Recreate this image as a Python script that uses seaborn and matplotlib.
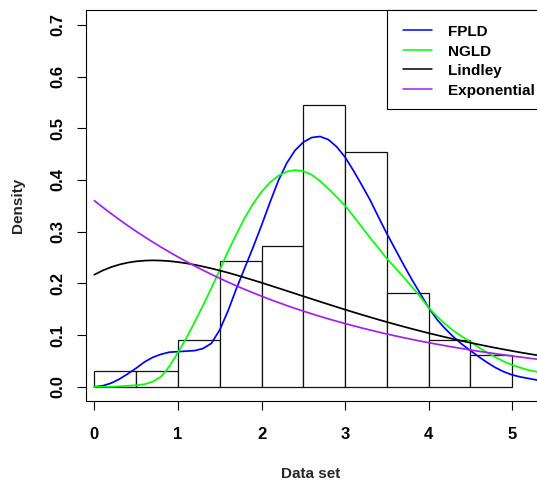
import matplotlib
matplotlib.use("Agg")
import numpy as np
import pandas as pd
import seaborn as sns
import matplotlib.pyplot as plt
from matplotlib.patches import Rectangle
from matplotlib.lines import Line2D

# ---------------- data ----------------
bin_edges = [0.0, 0.5, 1.0, 1.5, 2.0, 2.5, 3.0, 3.5, 4.0, 4.5, 5.0]
bin_counts = [1, 1, 3, 8, 9, 18, 15, 6, 3, 2]

x_grid = [round(0.1 * i, 1) for i in range(54)]  # 0.0 .. 5.3

fpld = [0.000, 0.002, 0.007, 0.015, 0.025, 0.036, 0.048, 0.057, 0.063, 0.067,
        0.068, 0.069, 0.070, 0.074, 0.084, 0.110, 0.147, 0.190, 0.230, 0.270,
        0.312, 0.356, 0.398, 0.432, 0.457, 0.473, 0.482, 0.484, 0.478, 0.464,
        0.444, 0.418, 0.390, 0.361, 0.328, 0.296, 0.266, 0.236, 0.207, 0.180,
        0.153, 0.130, 0.112, 0.096, 0.082, 0.070, 0.058, 0.047, 0.037, 0.029,
        0.023, 0.019, 0.016, 0.013]

ngld = [0.000, 0.000, 0.000, 0.001, 0.002, 0.003, 0.005, 0.010, 0.020, 0.040,
        0.066, 0.094, 0.125, 0.157, 0.191, 0.226, 0.262, 0.295, 0.327, 0.354,
        0.377, 0.395, 0.408, 0.416, 0.419, 0.417, 0.410, 0.398, 0.383, 0.367,
        0.350, 0.330, 0.309, 0.288, 0.268, 0.248, 0.230, 0.212, 0.193, 0.174,
        0.153, 0.136, 0.121, 0.108, 0.097, 0.087, 0.076, 0.066, 0.057, 0.049,
        0.042, 0.037, 0.032, 0.029]

lindley = [0.2168, 0.2249, 0.2314, 0.2364, 0.2401, 0.2426, 0.2440, 0.2445, 0.2441, 0.2430,
           0.2412, 0.2388, 0.2360, 0.2326, 0.2289, 0.2249, 0.2206, 0.2160, 0.2112, 0.2063,
           0.2013, 0.1961, 0.1909, 0.1857, 0.1804, 0.1751, 0.1699, 0.1647, 0.1595, 0.1544,
           0.1493, 0.1443, 0.1394, 0.1346, 0.1299, 0.1253, 0.1208, 0.1164, 0.1121, 0.1079,
           0.1038, 0.0999, 0.0960, 0.0923, 0.0887, 0.0852, 0.0818, 0.0785, 0.0753, 0.0723,
           0.0693, 0.0664, 0.0637, 0.0610]

exponential = [0.3600, 0.3473, 0.3350, 0.3232, 0.3117, 0.3007, 0.2901, 0.2798, 0.2699, 0.2604,
               0.2512, 0.2423, 0.2337, 0.2255, 0.2175, 0.2098, 0.2024, 0.1952, 0.1883, 0.1817,
               0.1753, 0.1690, 0.1631, 0.1573, 0.1517, 0.1464, 0.1412, 0.1362, 0.1314, 0.1268,
               0.1223, 0.1180, 0.1138, 0.1098, 0.1059, 0.1021, 0.0985, 0.0950, 0.0917, 0.0884,
               0.0853, 0.0823, 0.0794, 0.0766, 0.0739, 0.0713, 0.0687, 0.0663, 0.0640, 0.0617,
               0.0595, 0.0574, 0.0554, 0.0534]

series_names = ["FPLD", "NGLD", "Lindley", "Exponential"]
series_values = [fpld, ngld, lindley, exponential]
series_colors = ["#0000FF", "#00FF00", "#000000", "#A020F0"]

x_ticks = [0, 1, 2, 3, 4, 5]
y_ticks = [0.0, 0.1, 0.2, 0.3, 0.4, 0.5, 0.6, 0.7]
y_ticklabels = ["0.0", "0.1", "0.2", "0.3", "0.4", "0.5", "0.6", "0.7"]

# ---------------- style ----------------
sns.set_style("white")
plt.rcParams["font.family"] = ["Liberation Sans", "DejaVu Sans"]
plt.rcParams["font.weight"] = "bold"
plt.rcParams["axes.labelweight"] = "bold"

W, H = 537, 482
fig = plt.figure(figsize=(W / 100, H / 100), dpi=100)
ax_l, ax_r, ax_t, ax_b = 85.7, 538.2, 10.3, 401.3
ax = fig.add_axes([ax_l / W, 1 - ax_b / H, (ax_r - ax_l) / W, (ax_b - ax_t) / H])

# histogram
bin_centers = [(a + b) / 2 for a, b in zip(bin_edges[:-1], bin_edges[1:])]
hist_df = pd.DataFrame({"value": bin_centers, "count": bin_counts})
sns.histplot(data=hist_df, x="value", weights="count", bins=bin_edges, stat="density",
             color="white", edgecolor="#111111", linewidth=0.9, alpha=1.0, ax=ax)

# density curves
for name, vals, col in zip(series_names, series_values, series_colors):
    sns.lineplot(x=x_grid, y=vals, color=col, linewidth=1.25, sort=False,
                 estimator=None, ax=ax)

ax.set_xlim(-0.103, 5.31)
ax.set_ylim(-0.028, 0.728)
ax.set_xticks(x_ticks)
ax.set_xticklabels([str(t) for t in x_ticks])
ax.set_yticks(y_ticks)
ax.set_yticklabels(y_ticklabels, rotation=90, va="center")

for s in ax.spines.values():
    s.set_color("black")
    s.set_linewidth(0.8)
ax.tick_params(axis="both", direction="out", length=6.8, width=0.8, color="black",
               labelsize=12, labelcolor="black")
ax.tick_params(axis="x", pad=11.5, bottom=True)
ax.tick_params(axis="y", pad=8, left=True)
for lab in ax.get_xticklabels() + ax.get_yticklabels():
    lab.set_fontweight("bold")

ax.set_xlabel("Data set", fontsize=11, fontweight="bold")
ax.set_ylabel("Density", fontsize=11, fontweight="bold")
axw, axh = ax_r - ax_l, ax_b - ax_t
ax.xaxis.set_label_coords((310.5 - ax_l) / axw, (ax_b - 478.3) / axh)
ax.xaxis.label.set_va("baseline")
ax.yaxis.set_label_coords((22.0 - ax_l) / axw, 0.5)
ax.yaxis.label.set_va("baseline")

# legend (R-style box, top right)
def fx(px):
    return px / W

def fy(py):
    return 1 - py / H

leg_box = Rectangle((fx(386.7), fy(108.7)), fx(545) - fx(386.7), fy(10.3) - fy(108.7),
                    transform=fig.transFigure, facecolor="white", edgecolor="black",
                    linewidth=0.8, zorder=5)
fig.patches.append(leg_box)
row_centers = [30.0, 49.7, 69.4, 89.1]
for name, col, yc in zip(series_names, series_colors, row_centers):
    fig.add_artist(Line2D([fx(402.7), fx(432.3)], [fy(yc), fy(yc)], color=col,
                          linewidth=1.1, transform=fig.transFigure, zorder=6))
    fig.text(fx(448.3), fy(yc + 5.8), name, fontsize=11, fontweight="bold",
             ha="left", va="baseline", color="black", zorder=6)

fig.savefig("out.png", dpi=100)
